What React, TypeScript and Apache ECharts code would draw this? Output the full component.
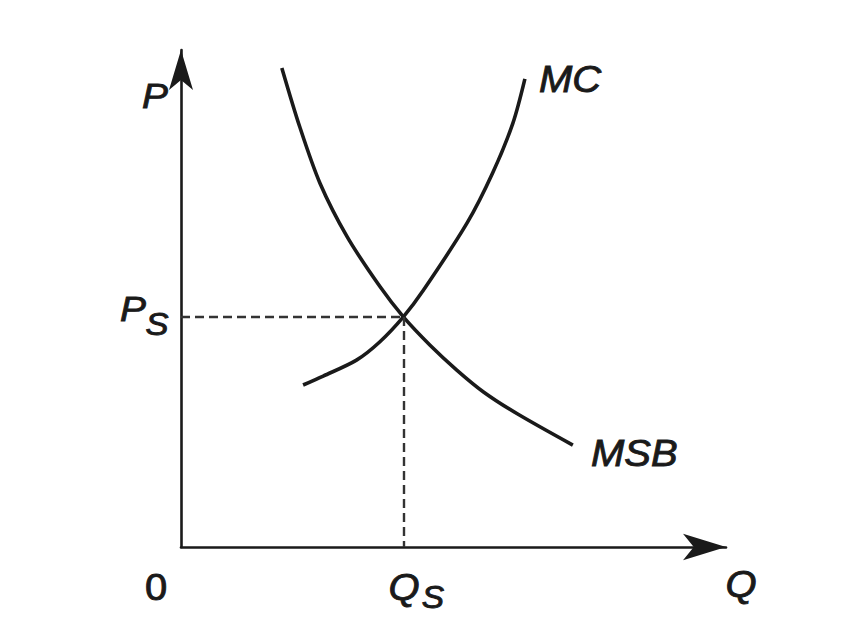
import React, { useEffect, useRef } from "react";
import * as echarts from "echarts";

// Marginal social benefit curve (Q, P)
const msbQ = [18.5, 21.8, 25.5, 30.5, 36.5, 40.8, 45.7, 50.6, 55.5, 61.7, 71.9];
const msbP = [96.4, 84.5, 73.2, 62.4, 52.4, 46.3, 40.6, 35.6, 31.2, 26.8, 20.5];
// Marginal cost curve (Q, P)
const mcQ = [22.4, 26.1, 32.2, 36.5, 40.8, 44.5, 52.5, 57.2, 60.9, 63.1];
const mcP = [32.6, 34.4, 37.6, 41.3, 46.3, 51.7, 65.2, 75.3, 85.3, 94.2];
// Social optimum
const optimumQ = 40.8;
const optimumP = 46.3;

const FONT = "'Liberation Sans', Arial, sans-serif";
const INK = "#1a1a1a";

export default function App() {
  const ref = useRef<HTMLDivElement>(null);
  useEffect(() => {
    if (!ref.current) return;
    const chart = echarts.init(ref.current, undefined, { renderer: "svg" });
    const label = (
      text: string,
      x: number,
      y: number,
      size = 36,
      align = "left",
      italic = true
    ) => ({
      type: "text",
      x,
      y,
      scaleX: 1.08,
      style: {
        text,
        fill: INK,
        stroke: INK,
        lineWidth: 0.9,
        font: `${italic ? "italic " : ""}${size}px ${FONT}`,
        textAlign: align,
        textVerticalAlign: "middle",
      },
    });
    chart.setOption({
      animation: false,
      backgroundColor: "#ffffff",
      grid: { left: 181, right: 129, top: 50, bottom: 97 },
      xAxis: {
        type: "value",
        min: 0,
        max: 100,
        splitLine: { show: false },
        axisTick: { show: false },
        axisLabel: { show: false },
        axisLine: {
          show: true,
          symbol: ["none", "arrow"],
          symbolSize: [20, 43],
          lineStyle: { color: INK, width: 2.6 },
        },
      },
      yAxis: {
        type: "value",
        min: 0,
        max: 100,
        splitLine: { show: false },
        axisTick: { show: false },
        axisLabel: { show: false },
        axisLine: {
          show: true,
          symbol: ["none", "arrow"],
          symbolSize: [18, 40],
          lineStyle: { color: INK, width: 2.6 },
        },
      },
      series: [
        {
          name: "MSB",
          type: "line",
          smooth: 0.3,
          showSymbol: false,
          lineStyle: { color: INK, width: 3.6 },
          data: msbQ.map((q, i) => [q, msbP[i]]),
          markLine: {
            silent: true,
            symbol: ["none", "none"],
            label: { show: false },
            lineStyle: { color: "#333333", width: 2.4, type: [9, 5] },
            data: [
              [{ coord: [0, optimumP] }, { coord: [optimumQ, optimumP] }],
              [{ coord: [optimumQ, optimumP] }, { coord: [optimumQ, 0] }],
            ],
          },
        },
        {
          name: "MC",
          type: "line",
          smooth: 0.3,
          showSymbol: false,
          lineStyle: { color: INK, width: 3.6 },
          data: mcQ.map((q, i) => [q, mcP[i]]),
        },
      ],
      graphic: [
        label("P", 155, 96, 36, "center"),
        label("P", 133, 309, 36, "center"),
        label("S", 157, 324, 32, "center"),
        label("MC", 539, 79, 37),
        label("MSB", 591, 453, 37),
        label("0", 156, 587, 37, "center", false),
        label("Q", 404, 587, 37, "center"),
        label("S", 433, 597, 31, "center"),
        label("Q", 741, 584, 37, "center"),
      ],
    });
    return () => chart.dispose();
  }, []);
  return (
    <div
      ref={ref}
      style={{ position: "fixed", left: 0, top: 0, width: 855, height: 644 }}
    />
  );
}
